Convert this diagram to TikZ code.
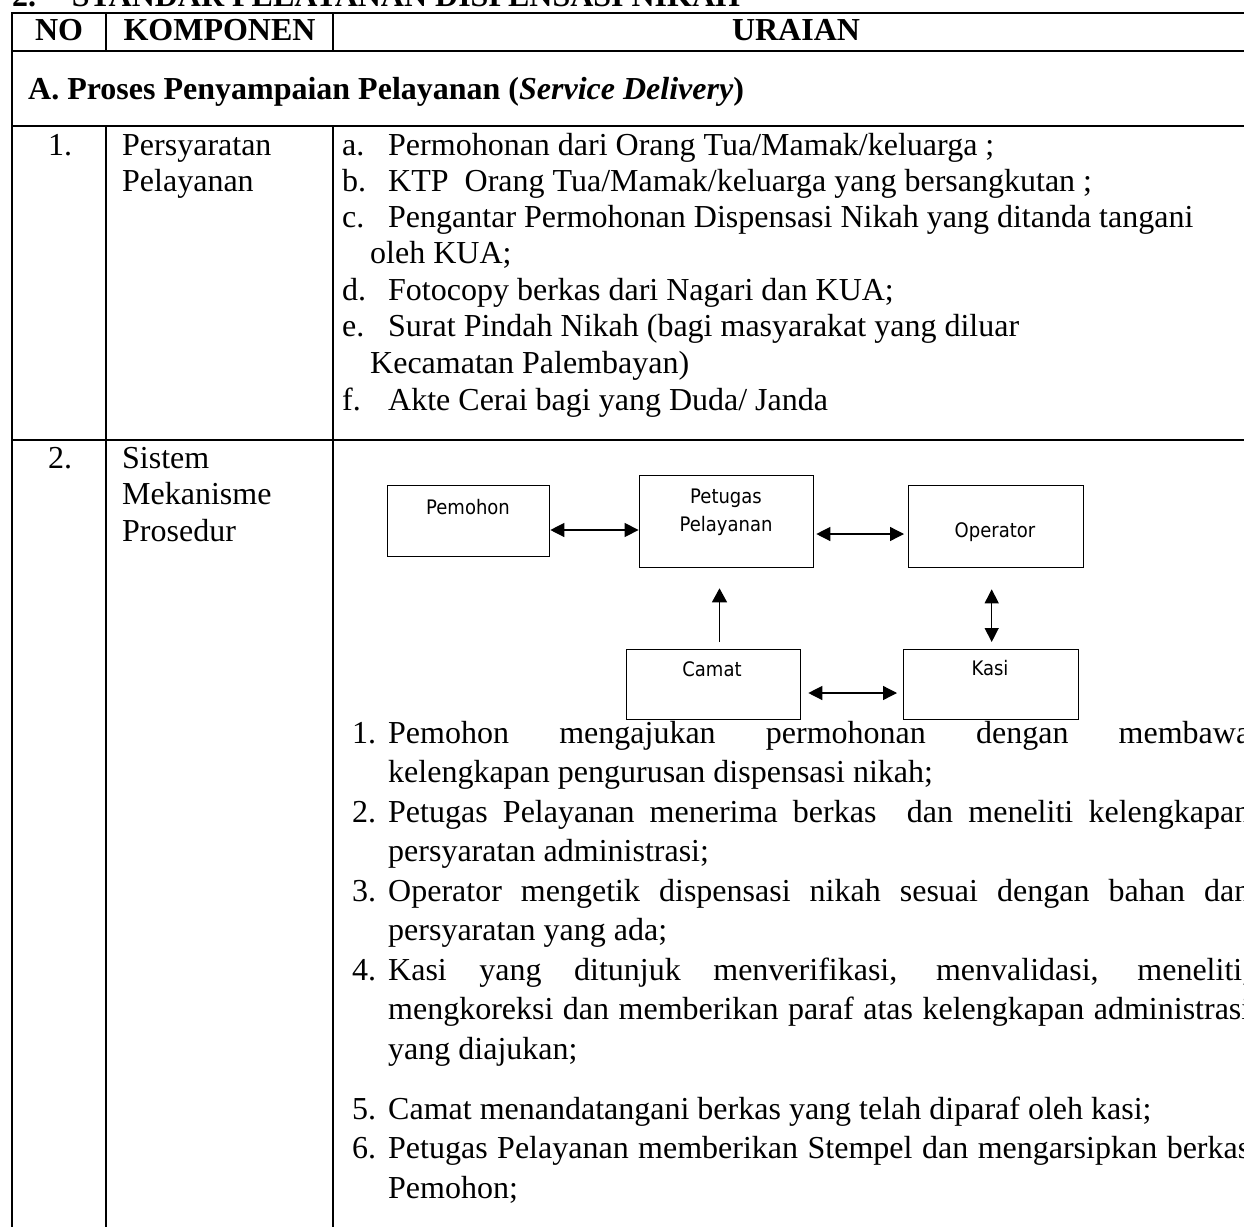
\documentclass[tikz,border=0pt]{standalone}
\usepackage{fontspec}
\setmainfont{Liberation Serif}
\newfontfamily\diagfont[FakeStretch=0.9]{DejaVu Sans}
\usetikzlibrary{arrows.meta}
\begin{document}
\begin{tikzpicture}[x=1pt,y=-1pt,
  txt/.style={inner sep=0pt, anchor=base west, font=\fontsize{32}{38}\selectfont},
  txtc/.style={inner sep=0pt, anchor=base, font=\fontsize{32}{38}\selectfont},
  bold/.style={font=\fontsize{32}{38}\selectfont\bfseries},
  thick line/.style={line width=2pt, black},
  thin line/.style={line width=1.1pt, black},
  box/.style={draw, line width=1.3pt, inner sep=0pt, anchor=north west},
  btxt/.style={inner sep=0pt, anchor=base, font=\diagfont\fontsize{20}{24}\selectfont},
  dbl/.style={{Triangle[length=14pt,width=14pt]}-{Triangle[length=14pt,width=14pt]}, line width=1.3pt},
  sgl/.style={-{Triangle[length=14pt,width=15pt]}, line width=1.3pt}
]
\useasboundingbox (0,0) rectangle (1244,1226);

% ---------- title (cut at top) ----------
\node[txt, bold] (t2) at (12,6.5) {2.};
\node[txt, bold] (ttl) at (71.7,6.5) {STANDAR PELAYANAN DISPENSASI NIKAH};

% ---------- table rules ----------
\draw[thick line] (11,12.7) -- (1260,12.7);
\draw[thick line] (11,50.7) -- (1260,50.7);
\draw[thick line] (11,125.7) -- (1260,125.7);
\draw[thick line] (11,440) -- (1260,440);
\draw[thick line] (12,12.7) -- (12,1240);
\draw[thin line] (106,12.7) -- (106,50.7);
\draw[thin line] (333,12.7) -- (333,50.7);
\draw[thin line] (106,125.7) -- (106,440);
\draw[thin line] (333,125.7) -- (333,440);
\draw[thick line] (106,440) -- (106,1240);
\draw[thick line] (333,440) -- (333,1240);

% ---------- header ----------
\node[txtc, bold] (hno) at (59,40) {NO};
\node[txtc, bold] (hkom) at (219.5,40) {KOMPONEN};
\node[txtc, bold] (hura) at (796,40) {URAIAN};

% ---------- section A ----------
\node[txt, bold] (secA) at (28,99.3) {A. Proses Penyampaian Pelayanan (\textit{Service Delivery})};

% ---------- row 1 ----------
\node[txtc] (n1) at (60,155) {1.};
\node[txt] (k1a) at (122,155) {Persyaratan};
\node[txt] (k1b) at (122,191.5) {Pelayanan};

\node[txt] (la) at (342,155) {a.};
\node[txt] (lat) at (388,155) {Permohonan dari Orang Tua/Mamak/keluarga ;};
\node[txt] (lb) at (342,191) {b.};
\node[txt] (lbt) at (388,191) {KTP\ \ Orang Tua/Mamak/keluarga yang bersangkutan ;};
\node[txt] (lc) at (342,227) {c.};
\node[txt] (lct) at (388,227) {Pengantar Permohonan Dispensasi Nikah yang ditanda tangani};
\node[txt] (lct2) at (370,263.5) {oleh KUA;};
\node[txt] (ld) at (342,300) {d.};
\node[txt] (ldt) at (388,300) {Fotocopy berkas dari Nagari dan KUA;};
\node[txt] (le) at (342,336.5) {e.};
\node[txt] (let) at (388,336.5) {Surat Pindah Nikah (bagi masyarakat yang diluar};
\node[txt] (let2) at (370,373) {Kecamatan Palembayan)};
\node[txt] (lf) at (342,410) {f.};
\node[txt] (lft) at (388,410) {Akte Cerai bagi yang Duda/ Janda};

% ---------- row 2 ----------
\node[txtc] (n2) at (60,468) {2.};
\node[txt] (k2a) at (122,468) {Sistem};
\node[txt] (k2b) at (122,504.5) {Mekanisme};
\node[txt] (k2c) at (122,541) {Prosedur};

% diagram
\node[box, minimum width=162pt, minimum height=71pt] (pem) at (387,485) {};
\node[box, minimum width=174.4pt, minimum height=92pt] (pet) at (638.6,475) {};
\node[box, minimum width=175pt, minimum height=82pt] (ope) at (908,485) {};
\node[box, minimum width=174.5pt, minimum height=70pt] (cam) at (625.5,649) {};
\node[box, minimum width=175pt, minimum height=70pt] (kas) at (903,649) {};

\node[btxt] (pemt) at (468,514) {Pemohon};
\node[btxt] (pett1) at (726,503) {Petugas};
\node[btxt] (pett2) at (726,531) {Pelayanan};
\node[btxt] (opet) at (995,537) {Operator};
\node[btxt] (camt) at (712,676) {Camat};
\node[btxt] (kast) at (990,675) {Kasi};

\coordinate (ya) at (0,530);
\coordinate (yb) at (0,534);
\coordinate (yc) at (0,693);
\coordinate (xa) at (719.5,0);
\coordinate (xb) at (991.7,0);

\draw[dbl] (pem.east |- ya) -- (pet.west |- ya);
\draw[dbl, shorten <=2pt, shorten >=4pt] (pet.east |- yb) -- (ope.west |- yb);
\draw[sgl, shorten <=7pt, shorten >=20pt] (cam.north -| xa) -- (pet.south -| xa);
\draw[dbl, shorten <=21pt, shorten >=7pt] (ope.south -| xb) -- (kas.north -| xb);
\draw[dbl, shorten <=7pt, shorten >=6pt] (cam.east |- yc) -- (kas.west |- yc);

% numbered procedure
\node[txt] (p1) at (352,743) {1.};
\node[txt] (p1a) at (388,743) {\makebox[862pt][s]{Pemohon mengajukan permohonan dengan membawa}};
\node[txt] (p1b) at (388,782.5) {kelengkapan pengurusan dispensasi nikah;};
\node[txt] (p2) at (352,822) {2.};
\node[txt] (p2a) at (388,822) {\makebox[862pt][s]{Petugas Pelayanan menerima berkas\ \ dan meneliti kelengkapan}};
\node[txt] (p2b) at (388,861.5) {persyaratan administrasi;};
\node[txt] (p3) at (352,901) {3.};
\node[txt] (p3a) at (388,901) {\makebox[862pt][s]{Operator mengetik dispensasi nikah sesuai dengan bahan dan}};
\node[txt] (p3b) at (388,940.5) {persyaratan yang ada;};
\node[txt] (p4) at (352,980) {4.};
\node[txt] (p4a) at (388,980) {\makebox[862pt][s]{Kasi yang ditunjuk menverifikasi, menvalidasi, meneliti,}};
\node[txt] (p4b) at (388,1019.5) {\makebox[862pt][s]{mengkoreksi dan memberikan paraf atas kelengkapan administrasi}};
\node[txt] (p4c) at (388,1059) {yang diajukan;};
\node[txt] (p5) at (352,1119) {5.};
\node[txt] (p5a) at (388,1119) {Camat menandatangani berkas yang telah diparaf oleh kasi;};
\node[txt] (p6) at (352,1158.5) {6.};
\node[txt] (p6a) at (388,1158.5) {\makebox[862pt][s]{Petugas Pelayanan memberikan Stempel dan mengarsipkan berkas}};
\node[txt] (p6b) at (388,1198) {Pemohon;};
\end{tikzpicture}
\end{document}
